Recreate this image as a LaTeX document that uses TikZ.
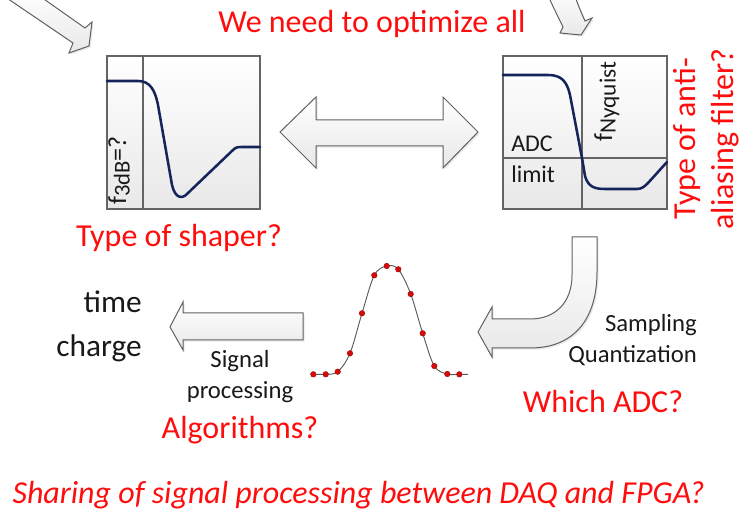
\documentclass[tikz,border=0pt]{standalone}
\usepackage{fontspec}
\setmainfont{Carlito}
\usetikzlibrary{shadows}
\definecolor{alert}{RGB}{255,12,12}
\definecolor{navy}{RGB}{22,36,92}
\definecolor{frame}{RGB}{100,100,100}
\definecolor{ink}{RGB}{25,25,25}
\definecolor{sampled}{RGB}{215,10,10}
\begin{document}
\begin{tikzpicture}[x=0.75pt,y=-0.75pt,
  blockarrow/.style={draw=black!62, line width=0.75pt, line join=miter,
    top color=white, bottom color=black!9,
    drop shadow={opacity=0.18, shadow xshift=1.2pt, shadow yshift=-1.2pt}},
  plotbox/.style={draw=frame, line width=0.9pt, top color=white, bottom color=black!9},
  divider/.style={draw=frame, line width=0.8pt},
  response/.style={draw=navy, line width=1.9pt, line cap=round, line join=round},
  question/.style={text=alert, inner sep=0pt, font=\fontsize{24}{30}\selectfont},
  bigword/.style={text=ink, inner sep=0pt, font=\fontsize{23.5}{28}\selectfont},
  stepword/.style={text=ink, inner sep=0pt, font=\fontsize{18.5}{23}\selectfont},
  axisword/.style={text=ink, inner sep=0pt, font=\fontsize{19.5}{22}\selectfont},
  sample/.style={fill=sampled, draw=sampled!70!black, line width=0.3pt}]
\useasboundingbox (0,0) rectangle (742,509);

% ---- incoming arrows at the top ----
\path[blockarrow] (31,-10) -- (85,28) -- (92,22) -- (89,46) -- (69,53) -- (73,43) -- (-5,-10) -- cycle;
\path[blockarrow] (546,-10) .. controls (552,6) and (558,16) .. (563,27) -- (560,33) -- (581,35)
  -- (592,18) -- (585,21) .. controls (580,10) and (576,0) .. (573,-10) -- cycle;

% ---- shaper response ----
\path[plotbox] (107,56) rectangle (260,209);
\draw[divider] (143,56) -- (143,209);
\draw[response] (107,81) -- (138,81) .. controls (150,81) and (155,90) .. (158,105)
  -- (172,185) .. controls (175,198) and (182,200) .. (188,193)
  -- (233,150) .. controls (236,147) and (238,147) .. (242,147) -- (260,147);
\node[axisword, rotate=90, anchor=base west] (f3db) at (126,205)
  {f\raisebox{-0.3ex}{\fontsize{17}{17}\selectfont 3dB}=?};

% ---- anti-aliasing filter response ----
\path[plotbox] (503,56) rectangle (667,209);
\draw[divider] (582,56) -- (582,209);
\draw[divider] (503,158) -- (667,158);
\draw[response] (503,75) -- (548,75) .. controls (562,75) and (567,82) .. (570,95)
  -- (582,158) -- (585,176) .. controls (588,187) and (595,189) .. (605,189)
  -- (637,189) .. controls (642,189) and (645,186) .. (648,183) -- (667,162);
\node[axisword, rotate=90, anchor=base west] (fnyq) at (612,142)
  {f\raisebox{-0.3ex}{\fontsize{17.5}{17}\selectfont Nyquist}};
\node[stepword, font=\fontsize{18}{22}\selectfont, anchor=base west] (adc) at (511,152) {ADC};
\node[stepword, font=\fontsize{18}{22}\selectfont, anchor=base west] (limit) at (511,183) {limit};

% ---- two-way arrow between the two filters ----
\path[blockarrow] (280,132) -- (316,97) -- (316,120) -- (443,120) -- (443,97) -- (478,132)
  -- (443,168) -- (443,146) -- (316,146) -- (316,168) -- cycle;

% ---- bent arrow down to the samples ----
\path[blockarrow] (597,237) -- (597,272) .. controls (597,318) and (575,348) .. (530,348)
  -- (492,348) -- (492,357) -- (478,332) -- (492,307) -- (492,319) -- (530,319)
  .. controls (556,319) and (572,302) .. (572,275) -- (572,237) -- cycle;

% ---- arrow to the results ----
\path[blockarrow] (170,327) -- (183,302) -- (183,313) -- (303,313) -- (303,340)
  -- (183,340) -- (183,350) -- cycle;

% ---- sampled pulse ----
\draw[black!65, line width=0.7pt] plot[smooth, tension=0.55] coordinates {
  (313,374.3) (325.7,374.3) (337.7,371.7) (350,353.3) (362,313.3) (374.3,275.3)
  (386.7,266) (398.3,269.3) (410.7,294) (422.7,333.3) (434.3,366) (447.3,374)
  (459.3,374.3) (468,374.3)};
\foreach \px/\py in {313.3/374.3, 325.7/374.3, 337.7/371.7, 350/353.3, 362/313.3,
  374.3/275.3, 386.7/266, 398.3/269.3, 410.7/294, 422.7/333.3, 434.3/366,
  447.3/374, 459.3/374.3}
  \path[sample] (\px,\py) circle[radius=2.8];

% ---- texts ----
\node[question, anchor=base] (optimize) at (372,33) {We need to optimize all};
\node[question, anchor=base] (shaper) at (179,247) {Type of shaper?};
\node[question, rotate=90, align=center, font=\fontsize{24}{28.5}\selectfont] (antialias) at (706,139) {Type of anti-\\aliasing filter?};
\node[question, anchor=base] (whichadc) at (603,412) {Which ADC?};
\node[question, anchor=base] (algos) at (240,438) {Algorithms?};
\node[question, anchor=base, font=\fontsize{24}{30}\selectfont\itshape] (sharing) at (358.5,503)
  {Sharing of signal processing between DAQ and FPGA?};

\node[bigword, anchor=base east] (time) at (142,313) {time};
\node[bigword, anchor=base east] (charge) at (142,357) {charge};
\node[stepword, anchor=base] (signal) at (240,368) {Signal};
\node[stepword, anchor=base] (processing) at (240,398) {processing};
\node[stepword, anchor=base east] (sampling) at (697,332) {Sampling};
\node[stepword, anchor=base east] (quant) at (697,363) {Quantization};
\end{tikzpicture}
\end{document}
